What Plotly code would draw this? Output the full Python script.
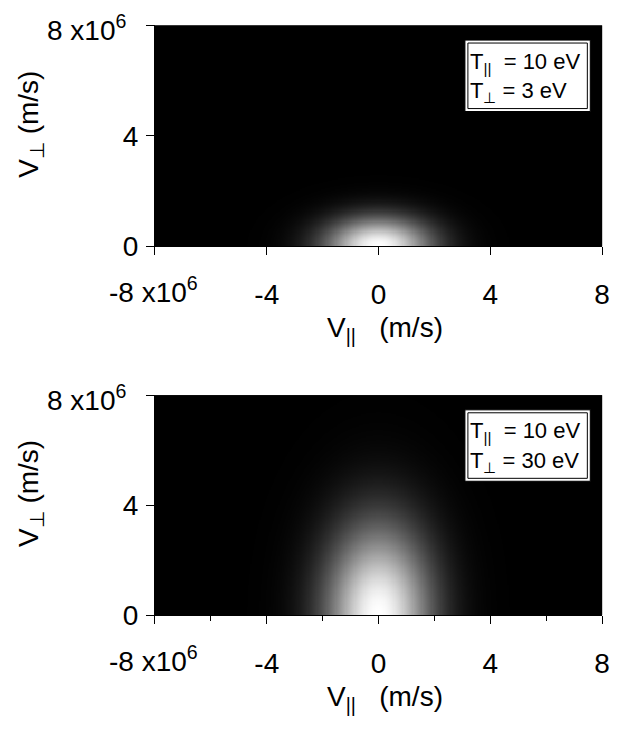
import numpy as np
import plotly.graph_objects as go

# Plasma parameters for the two panels (electron temperatures in eV)
t_parallel_ev = [10, 10]
t_perp_ev = [3, 30]

# Velocity axes (m/s)
v_par_range = [-8e6, 8e6]
v_perp_range = [0, 8e6]
x_tick_vals = [-8e6, -4e6, 0, 4e6, 8e6]
x_tick_text = ["", "-4", "0", "4", "8"]
x_minor_vals = [-6e6, -2e6, 2e6, 6e6]
y_tick_vals = [0, 4e6, 8e6]
y_tick_text = ["0", "4", ""]

M_E = 9.109e-31
Q_E = 1.602e-19

v_par = np.linspace(v_par_range[0], v_par_range[1], 401)
v_perp = np.linspace(v_perp_range[0], v_perp_range[1], 201)
VPAR, VPERP = np.meshgrid(v_par, v_perp)

W, H = 621, 733
FONT = "Liberation Sans, Arial, sans-serif"
FS = 28
BOX_FS = 22

def px_x(p):
    return p / W

def px_y(p):
    return 1 - p / H

# panel geometry in pixels: (left, right, top, bottom)
panels = [(157, 610, 26, 252), (157, 610, 404, 629)]

fig = go.Figure()
annotations = []
shapes = []

for i, (tpar, tperp) in enumerate(zip(t_parallel_ev, t_perp_ev)):
    f = np.exp(-M_E * VPAR**2 / (2 * Q_E * tpar) - M_E * VPERP**2 / (2 * Q_E * tperp))
    f = f / f.max()
    xa = "x" if i == 0 else "x2"
    ya = "y" if i == 0 else "y2"
    fig.add_trace(go.Heatmap(
        x=v_par, y=v_perp, z=f, xaxis=xa, yaxis=ya,
        colorscale=[[0, "black"], [1, "white"]], zmin=0, zmax=1,
        showscale=False, hoverinfo="skip",
    ))

    l, r, t, b = panels[i]
    axis_common = dict(showgrid=False, zeroline=False, showline=True,
                       linecolor="black", linewidth=1, ticks="outside",
                       tickcolor="black", ticklen=8, tickwidth=1,
                       tickfont=dict(family=FONT, size=FS, color="black"))
    xaxis = dict(axis_common, domain=[px_x(l), px_x(r)], range=v_par_range,
                 tickmode="array", tickvals=x_tick_vals, ticktext=x_tick_text,
                 anchor=ya, ticklabelstandoff=15)
    if i == 1:
        xaxis["minor"] = dict(ticks="outside", ticklen=5, tickcolor="black",
                              tickmode="array", tickvals=x_minor_vals)
    yaxis = dict(axis_common, domain=[px_y(b), px_y(t)], range=v_perp_range,
                 tickmode="array", tickvals=y_tick_vals, ticktext=y_tick_text,
                 anchor=xa, ticklabelstandoff=2)
    fig.layout["xaxis" if i == 0 else "xaxis2"] = xaxis
    fig.layout["yaxis" if i == 0 else "yaxis2"] = yaxis

    tf = dict(family=FONT, size=FS, color="black")
    # exponent labels at the axis ends
    annotations.append(dict(text="8 x10<sup>6</sup>", x=px_x(131), y=px_y(t + 23),
                            xref="paper", yref="paper", xanchor="right", yanchor="bottom",
                            showarrow=False, font=tf))
    annotations.append(dict(text="-8 x10<sup>6</sup>", x=px_x(203), y=px_y(b + 65),
                            xref="paper", yref="paper", xanchor="right", yanchor="bottom",
                            showarrow=False, font=tf))
    # axis titles
    annotations.append(dict(text="V<sub>⊥</sub> (m/s)", x=px_x(31), y=px_y((t + b) / 2 - 12),
                            xref="paper", yref="paper", xanchor="center", yanchor="middle",
                            textangle=-90, showarrow=False, font=tf))
    annotations.append(dict(text="V<sub>||</sub>&nbsp;&nbsp; (m/s)", x=px_x(390), y=px_y(b + 65),
                            xref="paper", yref="paper", xanchor="center", yanchor="top",
                            showarrow=False, font=tf))

    # inset box with double border
    bl, br, bt, bb = 471, 598, t + 15, t + 88
    shapes.append(dict(type="rect", xref="paper", yref="paper",
                       x0=px_x(bl), x1=px_x(br), y0=px_y(bb), y1=px_y(bt),
                       line=dict(color="black", width=1), fillcolor="white", layer="above"))
    shapes.append(dict(type="rect", xref="paper", yref="paper",
                       x0=px_x(bl + 3), x1=px_x(br - 3), y0=px_y(bb - 3), y1=px_y(bt + 3),
                       line=dict(color="black", width=1), fillcolor="white", layer="above"))
    bf = dict(family=FONT, size=BOX_FS, color="black")
    annotations.append(dict(text=f"T<sub>||</sub>&nbsp; = {tpar} eV", x=px_x(bl + 3), y=px_y(bt + 23),
                            xref="paper", yref="paper", xanchor="left", yanchor="middle",
                            showarrow=False, font=bf))
    annotations.append(dict(text=f"T<sub>⊥</sub> = {tperp} eV", x=px_x(bl + 3), y=px_y(bt + 53),
                            xref="paper", yref="paper", xanchor="left", yanchor="middle",
                            showarrow=False, font=bf))

fig.update_layout(
    width=W, height=H, margin=dict(l=0, r=0, t=0, b=0),
    paper_bgcolor="white", plot_bgcolor="black",
    annotations=annotations, shapes=shapes, showlegend=False,
)

fig.write_html("out.html")
